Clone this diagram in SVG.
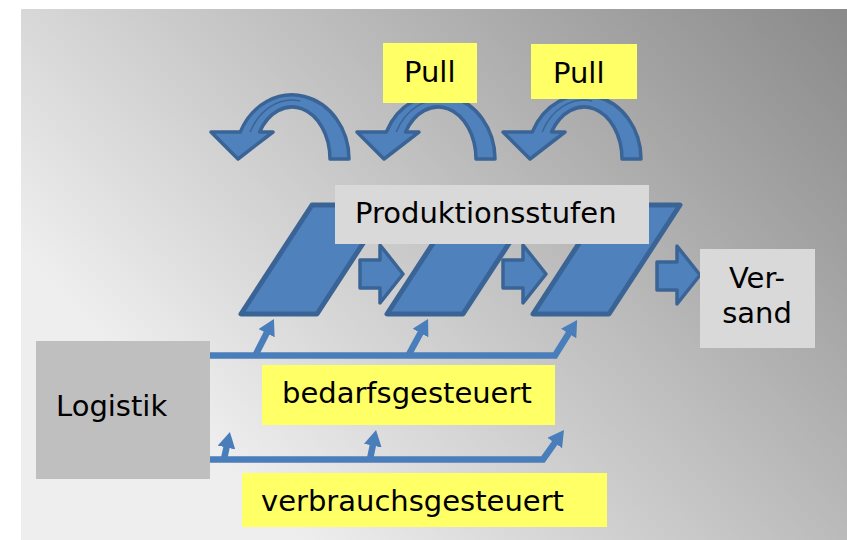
<svg xmlns="http://www.w3.org/2000/svg" xmlns:xlink="http://www.w3.org/1999/xlink" width="847" height="540" viewBox="0 0 847 540">
  <defs>
    <linearGradient id="bg" gradientUnits="userSpaceOnUse" x1="847" y1="9" x2="300" y2="540">
      <stop offset="0" stop-color="#8a8a8a"/>
      <stop offset="1" stop-color="#eeeeee"/>
    </linearGradient>
    <marker id="tri" viewBox="0 -9 16 18" markerWidth="16" markerHeight="18" refX="1" refY="0" markerUnits="userSpaceOnUse" orient="auto">
      <path d="M0,-9 L16,0 L0,9 Z" fill="#4a7ebb"/>
    </marker>
    <!-- arched arrow turning back to the previous stage -->
    <g id="curve">
      <path class="shape" d="M349,159 A57,64 0 0 0 240.3,132 L211,132 L238,159 L273,132 L259.5,132 A38,52 0 0 1 330,159 Z"/>
      <path class="fold" d="M250.2,132 A47,59 0 0 1 300.2,100.9"/>
    </g>
  </defs>
  <style>
    .t { font-family: "DejaVu Sans", Verdana, sans-serif; font-size: 29px; fill: #000; }
    .mid { text-anchor: middle; }
    .shape { fill: #4f81bd; stroke: #3b6496; stroke-width: 3.5; stroke-linejoin: round; }
    .fold { fill: none; stroke: #3b6496; stroke-width: 1.5; }
    .para { fill: #4f81bd; stroke: #3b6496; stroke-width: 5; stroke-linejoin: round; }
    .yellow { fill: #ffff66; }
    .grey { fill: #d9d9d9; }
    .dark { fill: #bfbfbf; }
    .link { fill: none; stroke: #4a7ebb; stroke-width: 6.5; marker-end: url(#tri); }
  </style>

  <rect x="0" y="0" width="847" height="540" fill="#ffffff"/>
  <rect x="21" y="9" width="826" height="531" fill="url(#bg)"/>

  <!-- production stages -->
  <g id="stufe1"><path class="para" d="M241,314 L317,314 L388,205 L312,205 Z"/></g>
  <g id="stufe2"><path class="para" d="M387,314 L463,314 L534,205 L458,205 Z"/></g>
  <g id="stufe3"><path class="para" d="M533,314 L609,314 L680,205 L604,205 Z"/></g>

  <!-- flow between stages -->
  <g id="flow1"><path class="shape" d="M360,260 H380 V245 L403,274 L380,303 V288 H360 Z"/></g>
  <g id="flow2"><path class="shape" d="M503,260 H523 V245 L546,274 L523,303 V288 H503 Z"/></g>
  <g id="flow3"><path class="shape" d="M657,262 H677 V246 L700,275 L677,304 V290 H657 Z"/></g>

  <!-- pull loops -->
  <g id="pull-loop1"><use xlink:href="#curve"/></g>
  <g id="pull-loop2"><use xlink:href="#curve" transform="translate(146,0)"/></g>
  <g id="pull-loop3"><use xlink:href="#curve" transform="translate(292,0)"/></g>

  <g id="pull1">
    <rect class="yellow" x="383" y="43" width="94" height="60"/>
    <text class="t" x="404" y="82">Pull</text>
  </g>
  <g id="pull2">
    <rect class="yellow" x="531" y="44" width="106" height="55"/>
    <text class="t" x="553" y="83">Pull</text>
  </g>

  <g id="produktionsstufen">
    <rect class="grey" x="335" y="185" width="314" height="59"/>
    <text class="t" x="355" y="223">Produktionsstufen</text>
  </g>

  <g id="versand">
    <rect class="grey" x="700" y="249" width="115" height="99"/>
    <text class="t mid" x="757" y="288">Ver-</text>
    <text class="t mid" x="757" y="323">sand</text>
  </g>

  <g id="logistik">
    <rect class="dark" x="36" y="341" width="174" height="138"/>
    <text class="t" x="56" y="416">Logistik</text>
  </g>

  <!-- supply lines from logistics -->
  <g id="connectors">
    <path class="link" d="M210,355.5 H555 L569.2,332.8"/>
    <path class="link" d="M255,356 L267.1,332.3"/>
    <path class="link" d="M408,356 L420.9,332.2"/>
    <path class="link" d="M210,459.5 H543 L555.3,442.2"/>
    <path class="link" d="M224,459 L226.7,446.6"/>
    <path class="link" d="M370,459 L373,444.7"/>
  </g>

  <g id="bedarfsgesteuert">
    <rect class="yellow" x="262" y="365" width="293" height="60"/>
    <text class="t" x="282" y="403">bedarfsgesteuert</text>
  </g>

  <g id="verbrauchsgesteuert">
    <rect class="yellow" x="242" y="473" width="365" height="54"/>
    <text class="t" x="261" y="511">verbrauchsgesteuert</text>
  </g>
</svg>
